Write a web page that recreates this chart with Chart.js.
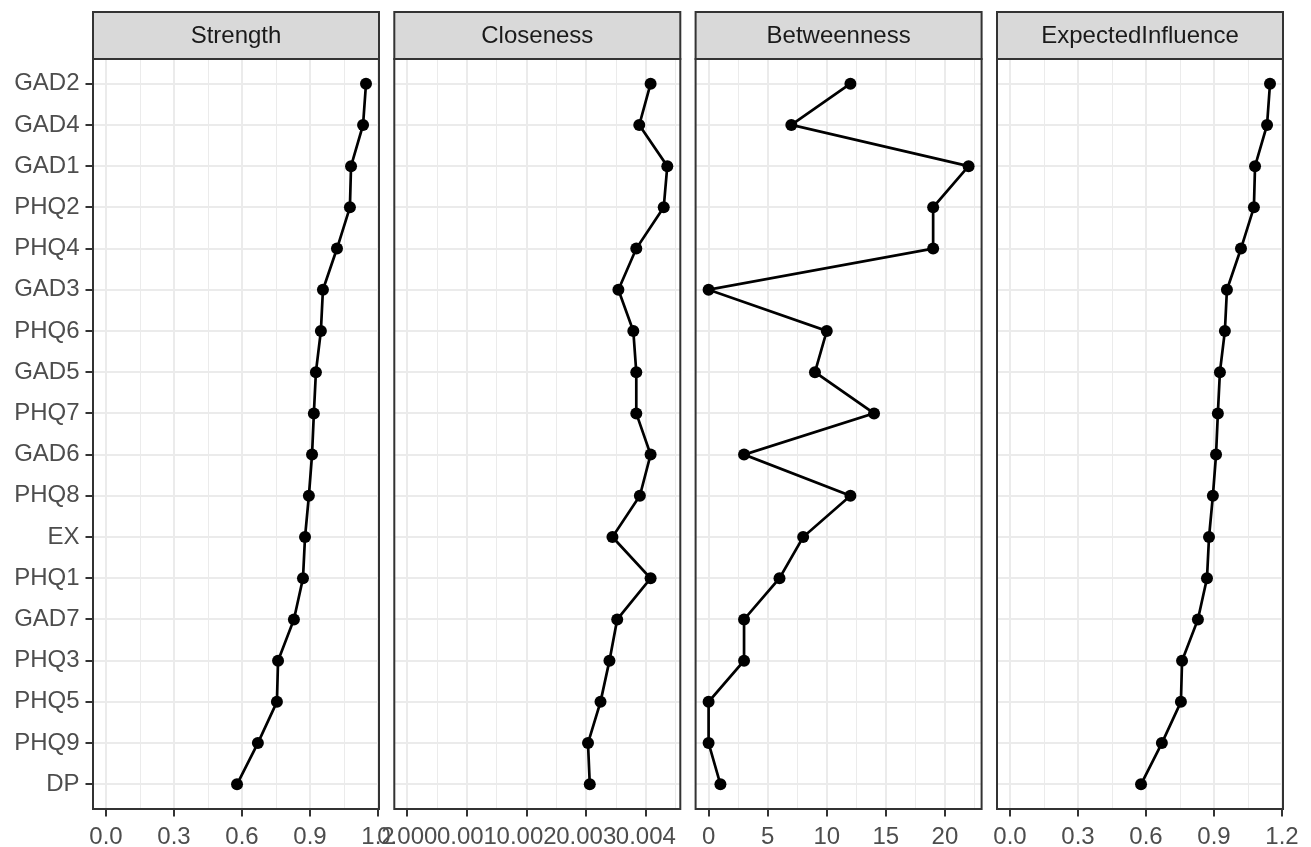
<!DOCTYPE html>
<html>
<head>
<meta charset="utf-8">
<title>Centrality indices</title>
<script src="https://cdn.jsdelivr.net/npm/chart.js@4.4.0/dist/chart.umd.min.js"></script>
<style>
  html, body { margin: 0; padding: 0; background: #ffffff; }
  #wrap { position: relative; width: 1311px; height: 847px; overflow: hidden; }
  #wrap canvas { position: absolute; left: 0; top: 0; }
</style>
</head>
<body>
<div id="wrap">
  <canvas id="p0" width="1311" height="847"></canvas>
  <canvas id="p1" width="1311" height="847"></canvas>
  <canvas id="p2" width="1311" height="847"></canvas>
  <canvas id="p3" width="1311" height="847"></canvas>
</div>
<script>
// ---- data ----
const nodes = ['GAD2','GAD4','GAD1','PHQ2','PHQ4','GAD3','PHQ6','GAD5','PHQ7',
               'GAD6','PHQ8','EX','PHQ1','GAD7','PHQ3','PHQ5','PHQ9','DP'];

const strength = [1.147, 1.134, 1.081, 1.076, 1.019, 0.957, 0.948, 0.926, 0.917,
                  0.909, 0.895, 0.878, 0.869, 0.829, 0.759, 0.754, 0.670, 0.578];

const closeness = [0.00408, 0.00389, 0.00436, 0.00430, 0.00384, 0.00354, 0.00379, 0.00384, 0.00384,
                   0.00408, 0.00390, 0.00344, 0.00408, 0.00352, 0.00339, 0.00324, 0.00303, 0.00306];

const betweenness = [12, 7, 22, 19, 19, 0, 10, 9, 14,
                     3, 12, 8, 6, 3, 3, 0, 0, 1];

const expectedInfluence = [1.147, 1.134, 1.081, 1.076, 1.019, 0.957, 0.948, 0.926, 0.917,
                           0.909, 0.895, 0.878, 0.869, 0.829, 0.759, 0.754, 0.670, 0.578];

const panelTitles = ['Strength', 'Closeness', 'Betweenness', 'ExpectedInfluence'];

const strengthTicks = [0, 0.3, 0.6, 0.9, 1.2];
const strengthTickLabels = ['0.0', '0.3', '0.6', '0.9', '1.2'];
const closenessTicks = [0, 0.001, 0.002, 0.003, 0.004];
const closenessTickLabels = ['0.000', '0.001', '0.002', '0.003', '0.004'];
const betweennessTicks = [0, 5, 10, 15, 20];
const betweennessTickLabels = ['0', '5', '10', '15', '20'];
const eiTicks = [0, 0.3, 0.6, 0.9, 1.2];
const eiTickLabels = ['0.0', '0.3', '0.6', '0.9', '1.2'];

// ---- layout ----
const W = 1311, H = 847;
const panelLeft = [93, 394.3, 695.6, 997];
const panelWidth = 286;
const stripTop = 12, plotTop = 59, plotBottom = 809;
const FONT = "'Liberation Sans', Arial, Helvetica, sans-serif";
const TEXT_SIZE = 24;

Chart.defaults.font.family = FONT;
Chart.defaults.font.size = TEXT_SIZE;

const panels = [
  { values: strength, ticks: strengthTicks, labels: strengthTickLabels },
  { values: closeness, ticks: closenessTicks, labels: closenessTickLabels },
  { values: betweenness, ticks: betweennessTicks, labels: betweennessTickLabels },
  { values: expectedInfluence, ticks: eiTicks, labels: eiTickLabels }
];

// strip on top of each panel plus the panel frame
const facetFrame = {
  id: 'facetFrame',
  afterDraw(chart, args, opts) {
    const { ctx, chartArea: a } = chart;
    ctx.save();
    ctx.fillStyle = '#D9D9D9';
    ctx.fillRect(a.left, stripTop, a.right - a.left, a.top - stripTop);
    ctx.strokeStyle = '#333333';
    ctx.lineWidth = 2;
    ctx.strokeRect(a.left, stripTop, a.right - a.left, a.top - stripTop);
    ctx.strokeRect(a.left, a.top, a.right - a.left, a.bottom - a.top);
    ctx.fillStyle = '#1A1A1A';
    ctx.font = TEXT_SIZE + 'px ' + FONT;
    ctx.textAlign = 'center';
    ctx.textBaseline = 'middle';
    ctx.fillText(opts.title, (a.left + a.right) / 2, (stripTop + a.top) / 2 + 1);
    ctx.restore();
  }
};

panels.forEach((p, i) => {
  const lo = Math.min(0, ...p.values);
  const hi = Math.max(...p.values);
  const pad = (hi - lo) * 0.05;
  const xMin = lo - pad, xMax = hi + pad;

  const step = p.ticks[1] - p.ticks[0];
  const minor = [p.ticks[0] - step / 2, ...p.ticks.map(v => v + step / 2)]
    .filter(v => v >= xMin && v <= xMax);
  const allTicks = [...p.ticks, ...minor].sort((a, b) => a - b);
  const isMajor = v => p.ticks.some(t => Math.abs(t - v) < step * 1e-6);
  const labelOf = v => {
    const k = p.ticks.findIndex(t => Math.abs(t - v) < step * 1e-6);
    return k >= 0 ? p.labels[k] : '';
  };

  const first = i === 0;
  const left = panelLeft[i];

  new Chart(document.getElementById('p' + i), {
    type: 'line',
    data: {
      datasets: [{
        data: p.values.map((v, k) => ({ x: v, y: k })),
        borderColor: '#000000',
        borderWidth: 2.7,
        pointRadius: 6,
        pointHoverRadius: 6,
        pointBackgroundColor: '#000000',
        pointBorderWidth: 0,
        tension: 0,
        fill: false,
        clip: false
      }]
    },
    plugins: [facetFrame],
    options: {
      responsive: false,
      animation: false,
      events: [],
      layout: {
        padding: { left: first ? 0 : left, right: W - (left + panelWidth), top: plotTop, bottom: 0 }
      },
      plugins: {
        legend: { display: false },
        tooltip: { enabled: false },
        facetFrame: { title: panelTitles[i] }
      },
      scales: {
        x: {
          type: 'linear',
          position: 'bottom',
          min: xMin,
          max: xMax,
          afterBuildTicks: s => { s.ticks = allTicks.map(v => ({ value: v })); },
          afterFit: s => { s.height = H - plotBottom; },
          border: { display: false },
          grid: {
            color: '#EBEBEB',
            lineWidth: c => (c.tick && isMajor(c.tick.value)) ? 2 : 1,
            tickColor: c => (c.tick && isMajor(c.tick.value)) ? '#333333' : 'rgba(0,0,0,0)',
            tickWidth: 2,
            tickLength: 7.5,
            drawTicks: true
          },
          ticks: {
            autoSkip: false,
            maxRotation: 0,
            minRotation: 0,
            padding: 6,
            color: '#4D4D4D',
            font: { size: TEXT_SIZE },
            callback: v => labelOf(v)
          }
        },
        y: {
          type: 'linear',
          position: 'left',
          reverse: true,
          min: -0.6,
          max: nodes.length - 1 + 0.6,
          afterBuildTicks: s => { s.ticks = nodes.map((_, k) => ({ value: k })); },
          afterFit: s => { s.width = first ? left : 0; },
          border: { display: false },
          grid: {
            color: '#EBEBEB',
            lineWidth: 2,
            tickColor: '#333333',
            tickWidth: 2,
            tickLength: 7.5,
            drawTicks: first
          },
          ticks: {
            display: first,
            autoSkip: false,
            padding: 6,
            color: '#4D4D4D',
            font: { size: TEXT_SIZE },
            callback: v => nodes[v]
          }
        }
      }
    }
  });
});
</script>
</body>
</html>
